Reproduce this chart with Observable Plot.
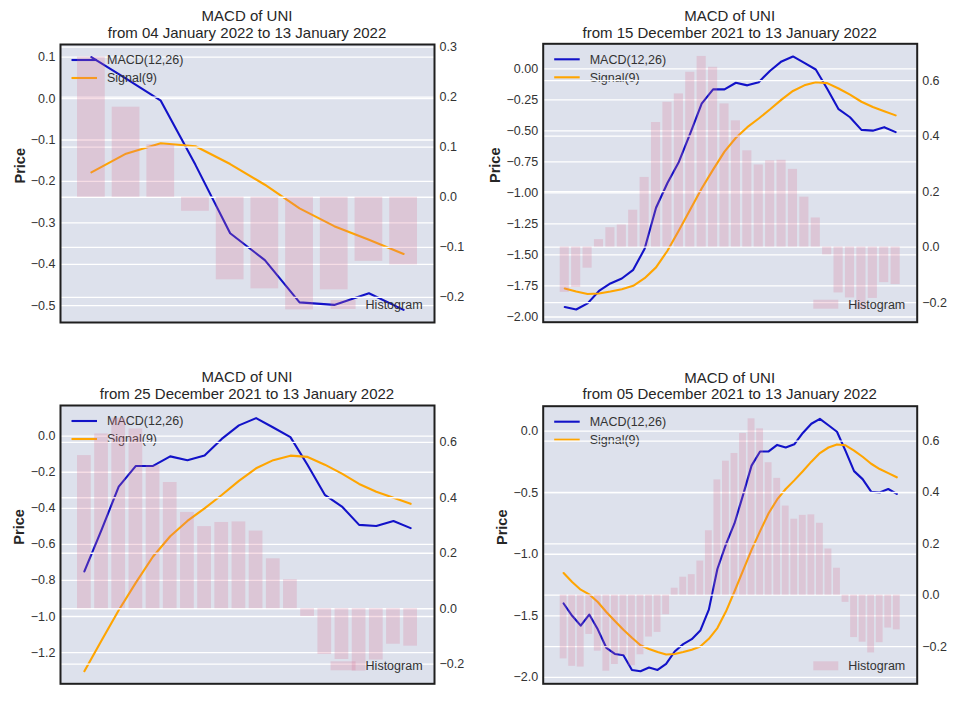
<!DOCTYPE html>
<html>
<head>
<meta charset="utf-8">
<script src="https://cdn.jsdelivr.net/npm/d3@7"></script>
<script src="https://cdn.jsdelivr.net/npm/@observablehq/plot@0.6"></script>
<style>
  html, body { margin: 0; padding: 0; background: #fff; }
  #root { position: relative; width: 965px; height: 724px; background: #fff;
          font-family: "Liberation Sans", Arial, sans-serif; }
  .panel { position: absolute; }
  .panel svg { position: absolute; left: 0; top: 0; }
  .ttl { position: absolute; transform: translateX(-50%); white-space: nowrap;
         font-size: 15px; line-height: 17px; color: #262626; text-align: center; }
</style>
</head>
<body>
<div id="root"></div>
<script>
// ---- data ----
const dates = [
  "2021-12-05","2021-12-06","2021-12-07","2021-12-08","2021-12-09","2021-12-10","2021-12-11","2021-12-12",
  "2021-12-13","2021-12-14","2021-12-15","2021-12-16","2021-12-17","2021-12-18","2021-12-19","2021-12-20",
  "2021-12-21","2021-12-22","2021-12-23","2021-12-24","2021-12-25","2021-12-26","2021-12-27","2021-12-28",
  "2021-12-29","2021-12-30","2021-12-31","2022-01-01","2022-01-02","2022-01-03","2022-01-04","2022-01-05",
  "2022-01-06","2022-01-07","2022-01-08","2022-01-09","2022-01-10","2022-01-11","2022-01-12","2022-01-13"
];
const macd = [
  -1.40, -1.50, -1.58, -1.49, -1.61, -1.76, -1.81, -1.82, -1.94, -1.95,
  -1.92, -1.94, -1.89, -1.79, -1.73, -1.69, -1.62, -1.45, -1.12, -0.92,
  -0.75, -0.52, -0.28, -0.165, -0.165, -0.112, -0.133, -0.107, -0.015, 0.06,
  0.10, 0.048, -0.005, -0.16, -0.325, -0.39, -0.492, -0.498, -0.47, -0.51
];
const signal = [
  -1.153, -1.226, -1.288, -1.326, -1.388, -1.469, -1.542, -1.613, -1.678, -1.74,
  -1.77, -1.795, -1.815, -1.811, -1.795, -1.776, -1.749, -1.687, -1.60, -1.466,
  -1.303, -1.133, -0.965, -0.812, -0.667, -0.555, -0.47, -0.40, -0.326, -0.248,
  -0.178, -0.133, -0.108, -0.115, -0.158, -0.208, -0.265, -0.308, -0.341, -0.375
];
const histogram = [
  -0.248, -0.277, -0.28, -0.153, -0.218, -0.296, -0.27, -0.236, -0.275, -0.232,
  -0.163, -0.145, -0.076, 0.027, 0.07, 0.08, 0.133, 0.251, 0.449, 0.522,
  0.552, 0.63, 0.687, 0.648, 0.516, 0.455, 0.347, 0.296, 0.311, 0.313,
  0.28, 0.18, 0.105, -0.028, -0.165, -0.183, -0.225, -0.185, -0.128, -0.135
];
const panelStarts = [30, 10, 20, 0];
const leftTicks = [
  [0.1, 0.0, -0.1, -0.2, -0.3, -0.4, -0.5],
  [0.0, -0.25, -0.5, -0.75, -1.0, -1.25, -1.5, -1.75, -2.0],
  [0.0, -0.2, -0.4, -0.6, -0.8, -1.0, -1.2],
  [0.0, -0.5, -1.0, -1.5, -2.0]
];
const leftFormats = [".1f", ".2f", ".1f", ".1f"];
const rightTicks = [
  [0.3, 0.2, 0.1, 0.0, -0.1, -0.2],
  [0.6, 0.4, 0.2, 0.0, -0.2],
  [0.6, 0.4, 0.2, 0.0, -0.2],
  [0.6, 0.4, 0.2, 0.0, -0.2]
];
const legendLabels = ["MACD(12,26)", "Signal(9)", "Histogram"];

// ---- layout / style ----
const layout = [
  {left: 0,   top: 0,   width: 480, height: 340, mt: 44,   mr: 46,   mb: 18,   ml: 60,   t1: 15,    t2: 32,    yl: 40},
  {left: 480, top: 0,   width: 485, height: 340, mt: 43.3, mr: 48.3, mb: 18.3, ml: 62.7, t1: 15,    t2: 32.3,  yl: 47.7},
  {left: 0,   top: 360, width: 480, height: 364, mt: 45,   mr: 46,   mb: 40.7, ml: 60,   t1: 376.7, t2: 393.3, yl: 40.7},
  {left: 480, top: 360, width: 485, height: 364, mt: 45.7, mr: 48.3, mb: 40.7, ml: 62.7, t1: 377.3, t2: 393.3, yl: 41}
];
const C = {bg: "#dde1ec", macd: "#1212c8", signal: "#ffa500", bar: "#db7093", barOp: 0.24,
           grid: "#ffffff", text: "#333333", frame: "#1f1f1f"};
const FONT = "'Liberation Sans', Arial, sans-serif";
const FS = 12.5;

const fmtDate = d3.utcFormat("%d %B %Y");
const root = document.getElementById("root");

function withMargin(lo, hi, m = 0.05) { const r = hi - lo; return [lo - m * r, hi + m * r]; }

layout.forEach((L, p) => {
  const s = panelStarts[p];
  const rows = dates.slice(s).map((d, j) => ({
    i: j, date: d, macd: macd[s + j], signal: signal[s + j], hist: histogram[s + j]
  }));
  const n = rows.length;
  const xDom = withMargin(-0.4, n - 1 + 0.4);
  const lineVals = rows.flatMap(r => [r.macd, r.signal]);
  const yDom = withMargin(d3.min(lineVals), d3.max(lineVals));
  const hVals = rows.map(r => r.hist).concat([0]);
  const hDom = withMargin(d3.min(hVals), d3.max(hVals));

  const panel = document.createElement("div");
  panel.className = "panel";
  Object.assign(panel.style, {left: L.left + "px", top: L.top + "px", width: L.width + "px", height: L.height + "px"});
  root.appendChild(panel);

  const common = {
    width: L.width, height: L.height,
    marginTop: L.mt, marginRight: L.mr, marginBottom: L.mb, marginLeft: L.ml,
    x: {type: "linear", domain: xDom, axis: null}
  };

  // bottom layer: background, left grid, lines, left axis
  const bottom = Plot.plot({
    ...common,
    y: {domain: yDom, axis: null},
    style: {background: "transparent", fontFamily: FONT, fontSize: FS + "px", color: C.text, overflow: "visible"},
    marks: [
      Plot.frame({fill: C.bg, stroke: "none"}),
      Plot.ruleY(leftTicks[p], {stroke: C.grid, strokeWidth: 1.3}),
      Plot.line(rows, {x: "i", y: "macd", stroke: C.macd, strokeWidth: 2.1, strokeLinejoin: "round"}),
      Plot.line(rows, {x: "i", y: "signal", stroke: C.signal, strokeWidth: 2.1, strokeLinejoin: "round"}),
      Plot.axisY(leftTicks[p], {anchor: "left", tickSize: 0, tickPadding: 5, label: null,
        tickFormat: d3.format(leftFormats[p]), fontSize: FS, fill: C.text}),
      Plot.text(["Price"], {frameAnchor: "left", dx: -L.yl, rotate: -90, fontWeight: "bold",
        fontSize: 14.5, fill: "#262626"})
    ]
  });
  panel.appendChild(bottom);

  // legend for lines (upper left)
  const lg = d3.select(bottom).append("g").attr("font-family", FONT).attr("font-size", FS)
    .attr("text-anchor", "start");
  [[legendLabels[0], C.macd, 16], [legendLabels[1], C.signal, 34]].forEach(([lab, col, dy]) => {
    lg.append("line").attr("x1", L.ml + 11.5).attr("x2", L.ml + 37).attr("y1", L.mt + dy).attr("y2", L.mt + dy)
      .attr("stroke", col).attr("stroke-width", 2.1);
    lg.append("text").attr("x", L.ml + 47).attr("y", L.mt + dy).attr("dy", "0.35em").attr("fill", C.text).text(lab);
  });

  // top layer: right grid, histogram bars, right axis, frame
  const top = Plot.plot({
    ...common,
    y: {domain: hDom, axis: null},
    style: {background: "transparent", fontFamily: FONT, fontSize: FS + "px", color: C.text, overflow: "visible"},
    marks: [
      Plot.ruleY(rightTicks[p], {stroke: C.grid, strokeWidth: 1.3}),
      Plot.rect(rows, {x1: d => d.i - 0.4, x2: d => d.i + 0.4, y1: 0, y2: "hist", fill: C.bar, fillOpacity: C.barOp}),
      Plot.axisY(rightTicks[p], {anchor: "right", tickSize: 0, tickPadding: 5, label: null,
        tickFormat: d3.format(".1f"), fontSize: FS, fill: C.text}),
      Plot.frame({stroke: C.frame, strokeWidth: 2, fill: "none"})
    ]
  });
  panel.appendChild(top);

  // histogram legend (lower right)
  const fr = L.width - L.mr, fb = L.height - L.mb;
  const hg = d3.select(top).append("g").attr("font-family", FONT).attr("font-size", FS)
    .attr("text-anchor", "start");
  hg.append("rect").attr("x", fr - 103.4).attr("y", fb - 17.5 - 4.5).attr("width", 25).attr("height", 9)
    .attr("fill", C.bar).attr("fill-opacity", C.barOp);
  hg.append("text").attr("x", fr - 68.4).attr("y", fb - 17.5).attr("dy", "0.35em").attr("fill", C.text).text(legendLabels[2]);

  // titles
  const cx = L.left + (L.ml + (L.width - L.mr)) / 2;
  [["MACD of UNI", L.t1], [`from ${fmtDate(new Date(rows[0].date))} to ${fmtDate(new Date(rows[n - 1].date))}`, L.t2]]
    .forEach(([txt, cy]) => {
      const t = document.createElement("div");
      t.className = "ttl";
      t.style.left = cx + "px";
      t.style.top = (cy - 8.5) + "px";
      t.textContent = txt;
      root.appendChild(t);
    });
});
</script>
</body>
</html>
